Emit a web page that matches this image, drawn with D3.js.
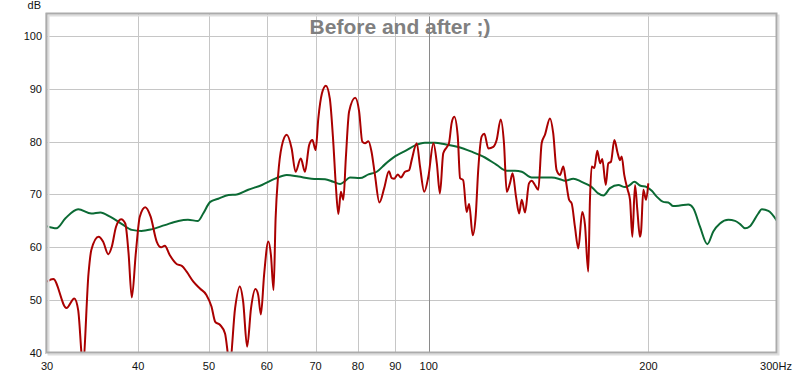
<!DOCTYPE html>
<html>
<head>
<meta charset="utf-8">
<script src="https://cdn.jsdelivr.net/npm/d3@7"></script>
<style>
  html, body { margin: 0; padding: 0; background: #fff; }
  svg { display: block; font-family: "Liberation Sans", Arial, sans-serif; }
</style>
</head>
<body>
<div id="chart"></div>
<script>
// measured response, before (red) - frequency in Hz, level in dB
const redFreq = [30.0,30.6,31.9,32.7,33.1,33.6,34.2,34.5,35.3,35.8,
  36.4,36.8,37.3,37.9,38.4,38.8,39.2,39.7,40.2,40.9,
  41.6,42.4,43.0,43.5,44.2,45.2,45.9,46.6,47.6,48.6,
  49.6,50.4,51.0,51.8,52.6,53.4,54.3,55.1,55.7,56.4,
  57.1,57.9,58.4,58.9,59.5,60.3,60.8,61.3,61.7,62.2,
  62.9,63.9,64.9,65.7,66.8,67.7,68.6,69.3,70.0,70.6,
  71.4,72.3,73.2,74.0,74.6,75.2,75.8,76.4,77.0,77.8,
  79.3,80.3,81.1,81.8,82.7,83.5,84.4,85.6,86.9,88.2,
  89.0,89.7,90.7,91.6,92.8,94.0,94.8,96.3,97.3,98.6,
  99.9,101.5,102.6,103.6,104.7,105.8,106.6,107.5,108.4,109.6,
  110.4,111.5,112.7,113.6,114.9,116.0,116.9,118.2,119.2,120.7,
  122.6,123.9,125.5,126.8,127.9,129.2,130.3,131.7,133.0,134.1,
  135.5,137.2,138.4,139.8,141.3,142.8,144.3,146.6,148.1,149.7,
  151.3,152.9,154.1,155.7,157.0,158.6,160.3,162.3,163.7,165.4,
  166.3,167.2,168.6,170.2,171.7,172.9,174.8,176.2,177.7,179.6,
  181.5,182.8,183.8,185.3,187.3,188.7,190.1,191.7,193.1,194.7,
  195.4,196.8,198.5,199.9];
const redDb = [53.5,54.0,48.5,50.3,48.1,38.0,55.1,59.5,62.0,61.1,
  58.7,60.1,63.9,65.3,64.5,58.9,50.5,58.9,65.8,67.6,
  65.8,61.1,60.0,60.3,58.5,56.8,56.5,55.4,53.5,52.2,
  51.0,48.8,45.9,45.3,43.7,38.0,48.5,52.6,49.7,41.2,
  48.5,52.1,51.0,47.3,54.8,61.1,58.5,51.9,65.5,73.7,
  79.1,81.3,78.7,74.3,76.8,74.3,79.4,80.3,78.4,84.4,
  89.1,90.6,88.2,80.0,71.8,66.3,70.5,69.0,76.9,85.7,
  88.3,85.7,80.0,79.7,80.1,78.1,73.7,68.5,71.2,74.4,
  73.1,73.0,73.8,73.2,74.3,74.6,76.6,79.7,75.3,70.5,
  73.4,79.7,75.9,70.2,77.8,78.9,79.7,83.5,84.7,81.0,
  73.1,72.7,66.7,68.2,62.3,66.1,74.6,81.0,81.5,78.7,
  79.0,80.3,84.2,79.7,70.5,72.1,74.0,69.6,66.4,69.0,
  66.6,72.1,72.6,71.8,70.9,79.7,81.3,84.4,81.6,74.6,
  73.7,75.3,72.7,69.0,68.3,63.9,59.8,66.7,64.3,55.4,
  69.0,75.3,75.0,78.3,75.9,76.7,71.8,75.9,76.2,80.3,
  77.8,76.5,77.2,73.7,70.9,69.0,62.0,71.8,67.1,62.0,
  63.0,70.9,69.0,72.1];

// after (green)
const greenFreq = [30.0,30.9,31.8,33.1,34.5,35.5,36.6,38.0,39.2,40.4,
  41.7,43.5,45.4,46.8,48.3,49.1,50.2,51.5,53.2,54.6,
  56.6,59.1,61.6,63.9,66.3,69.1,72.1,74.0,75.6,76.6,
  78.0,80.5,82.7,84.9,87.1,89.9,93.3,95.8,98.8,102.0,
  105.3,109.8,114.5,119.4,123.9,127.9,131.3,134.1,138.4,142.8,
  147.4,151.3,153.7,157.8,162.0,165.4,167.2,170.7,173.5,177.2,
  181.9,185.7,188.7,191.3,194.7,198.9,202.1,205.3,209.6,212.9,
  216.3,220.9,226.8,230.4,235.3,240.8,245.4,250.6,257.3,262.8,
  267.0,271.2,275.5,282.8,285.9,291.9,300];
const greenDb = [64.0,63.6,65.5,67.2,66.4,66.6,65.8,64.4,63.3,63.1,
  63.4,64.2,65.0,65.2,65.0,66.4,68.6,69.2,69.9,70.0,
  70.9,71.8,73.0,73.7,73.4,73.0,72.9,72.4,72.0,72.4,
  73.2,73.1,73.8,74.3,75.7,77.2,78.4,79.3,79.8,79.8,
  79.5,79.0,78.1,77.0,75.6,74.5,74.5,74.3,73.2,73.2,
  73.2,72.9,72.6,73.0,72.4,71.8,71.4,70.2,69.8,71.2,
  71.8,71.4,71.8,72.4,71.7,71.4,70.7,69.6,68.6,68.5,
  67.8,67.9,68.1,67.4,63.9,60.6,63.0,64.5,65.2,65.0,
  64.4,63.6,64.0,66.4,67.2,66.9,65.0];

const xTicks = [30, 40, 50, 60, 70, 80, 90, 100, 200, 300];
const xTickLabels = ["30", "40", "50", "60", "70", "80", "90", "100", "200", "300Hz"];
const yTicks = [40, 50, 60, 70, 80, 90, 100];
const title = "Before and after ;)";

const W = 800, H = 375;
const margin = { top: 14, right: 23, bottom: 22, left: 47 };
const innerW = W - margin.left - margin.right;
const innerH = H - margin.top - margin.bottom;

const x = d3.scaleLog().domain([30, 300]).range([0, innerW]);
const y = d3.scaleLinear().domain([40, 104.16]).range([innerH, 0]);

const svg = d3.select("#chart").append("svg")
  .attr("width", W).attr("height", H);

svg.append("defs").append("clipPath").attr("id", "plotClip")
  .append("rect").attr("width", innerW).attr("height", innerH);

const g = svg.append("g").attr("transform", `translate(${margin.left},${margin.top})`);

// grid
const gGrid = g.append("g").attr("class", "grid");
gGrid.selectAll("line.h")
  .data(yTicks.filter(d => d > 40))
  .join("line")
  .attr("class", "h")
  .attr("x1", 0).attr("x2", innerW)
  .attr("y1", d => Math.round(y(d)) + 0.5).attr("y2", d => Math.round(y(d)) + 0.5)
  .attr("stroke", "#c6c6c6").attr("stroke-width", 1);
gGrid.selectAll("line.v")
  .data(xTicks.filter(d => d > 30 && d < 300))
  .join("line")
  .attr("class", "v")
  .attr("y1", 0).attr("y2", innerH)
  .attr("x1", d => Math.round(x(d)) + 0.5).attr("x2", d => Math.round(x(d)) + 0.5)
  .attr("stroke", d => d === 100 ? "#8a8a8a" : "#c6c6c6").attr("stroke-width", 1);

// title (sits over the grid)
g.append("text")
  .attr("x", innerW / 2 - 12).attr("y", 19.5)
  .attr("text-anchor", "middle")
  .attr("fill", "#808080")
  .style("font-size", "21px").style("font-weight", "bold")
  .text(title);

// curves
const line = d3.line()
  .x(d => x(d[0]))
  .y(d => y(d[1]))
  .curve(d3.curveMonotoneX);

const gLines = g.append("g").attr("clip-path", "url(#plotClip)");
gLines.append("path")
  .datum(d3.zip(greenFreq, greenDb))
  .attr("d", line)
  .attr("fill", "none")
  .attr("stroke", "#0b6a34")
  .attr("stroke-width", 2);
gLines.append("path")
  .datum(d3.zip(redFreq, redDb))
  .attr("d", line)
  .attr("fill", "none")
  .attr("stroke", "#aa0000")
  .attr("stroke-width", 2);

// frame
g.append("rect")
  .attr("x", 1.5).attr("y", 1.5)
  .attr("width", innerW).attr("height", innerH)
  .attr("fill", "none").attr("stroke", "#dedede").attr("stroke-width", 2);
g.append("rect")
  .attr("x", -0.5).attr("y", -0.5)
  .attr("width", innerW).attr("height", innerH)
  .attr("fill", "none").attr("stroke", "#ababab").attr("stroke-width", 2);
g.append("line")
  .attr("x1", -1.5).attr("x2", -1.5).attr("y1", -1).attr("y2", innerH + 1)
  .attr("stroke", "#c8c8c8").attr("stroke-width", 1);

// axes labels
g.append("g").selectAll("text")
  .data(yTicks)
  .join("text")
  .attr("x", -5).attr("y", d => y(d))
  .attr("dy", "0.35em")
  .attr("text-anchor", "end")
  .attr("fill", "#111")
  .style("font-size", "11px")
  .text(d => d);

g.append("g").selectAll("text")
  .data(xTicks)
  .join("text")
  .attr("x", d => x(d) + (d === 300 ? -1 : 0))
  .attr("y", innerH + 17)
  .attr("text-anchor", "middle")
  .attr("fill", "#111")
  .style("font-size", "11px")
  .text((d, i) => xTickLabels[i]);

g.append("text")
  .attr("x", -6).attr("y", -5)
  .attr("text-anchor", "end")
  .attr("fill", "#111")
  .style("font-size", "11px")
  .text("dB");
</script>
</body>
</html>
